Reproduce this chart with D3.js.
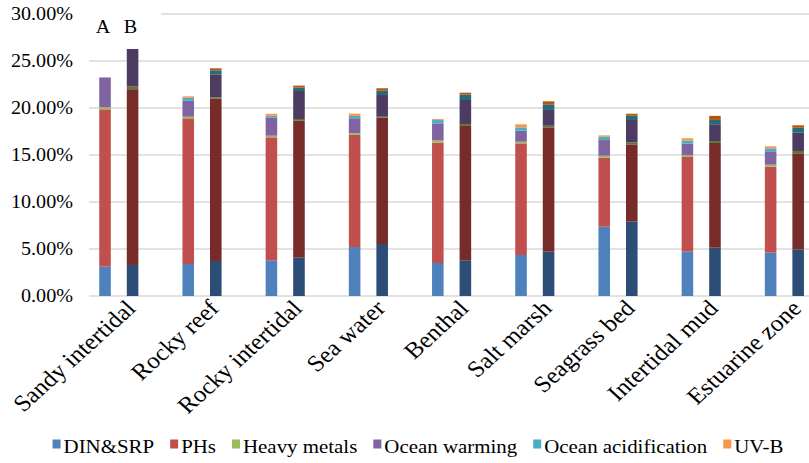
<!DOCTYPE html>
<html>
<head>
<meta charset="utf-8">
<script src="https://cdn.jsdelivr.net/npm/d3@7/dist/d3.min.js"></script>
<style>
  body { margin: 0; background: #fff; }
  svg text { font-family: "Liberation Serif", "Times New Roman", Times, "DejaVu Serif", serif !important; }
</style>
</head>
<body>
<svg id="chart" width="809" height="463"></svg>
<script>
const categories = ["Sandy intertidal", "Rocky reef", "Rocky intertidal", "Sea water", "Benthal",
  "Salt marsh", "Seagrass bed", "Intertidal mud", "Estuarine zone"];
const seriesNames = ["DIN&SRP", "PHs", "Heavy metals", "Ocean warming", "Ocean acidification", "UV-B"];
const groups = ["A", "B"];
const yTicks = [0, 5, 10, 15, 20, 25, 30];

// Bar A values (%)
const dinA  = [3.12, 3.40, 3.80, 5.21, 3.51, 4.36, 7.37, 4.72, 4.61];
const phsA  = [16.74, 15.50, 13.08, 11.92, 12.80, 11.88, 7.34, 10.07, 9.15];
const hmA   = [0.22, 0.17, 0.17, 0.18, 0.25, 0.17, 0.21, 0.18, 0.21];
const owA   = [3.17, 1.70, 1.95, 1.60, 1.81, 1.17, 1.67, 1.23, 1.42];
const oaA   = [0.00, 0.32, 0.18, 0.25, 0.35, 0.36, 0.35, 0.32, 0.32];
const uvA   = [0.00, 0.15, 0.20, 0.24, 0.10, 0.32, 0.15, 0.26, 0.21];
// Bar B values (%)
const dinB  = [3.30, 3.72, 4.08, 5.53, 3.80, 4.72, 7.91, 5.14, 4.96];
const phsB  = [18.70, 17.27, 14.57, 13.44, 14.29, 13.22, 8.22, 11.14, 10.22];
const hmB   = [0.28, 0.15, 0.18, 0.10, 0.21, 0.17, 0.21, 0.21, 0.25];
const owB   = [4.00, 2.40, 2.98, 2.31, 2.55, 1.68, 2.38, 1.78, 1.94];
const oaB   = [0.00, 0.47, 0.36, 0.46, 0.57, 0.60, 0.46, 0.46, 0.53];
const uvB   = [0.00, 0.21, 0.21, 0.26, 0.21, 0.32, 0.21, 0.43, 0.26];

const colorsA = ["#4f81bd", "#c0504d", "#9bbb59", "#8064a2", "#4bacc6", "#f79646"];
const colorsB = ["#2c4d75", "#772c2a", "#5f7530", "#4d3b62", "#276a7c", "#b65708"];

const valuesByGroup = {
  A: [dinA, phsA, hmA, owA, oaA, uvA],
  B: [dinB, phsB, hmB, owB, oaB, uvB]
};

const SX = 1.1; // horizontal stretch of the original text

const svg = d3.select("#chart");
svg.append("rect").attr("width", 809).attr("height", 463).attr("fill", "#fff");

const x = d3.scaleBand().domain(categories).range([77.2, 826]).padding(0);
const xSub = d3.scaleBand().domain(groups).range([0, x.bandwidth()])
  .paddingInner(0.58).paddingOuter(0.8);
const y = d3.scaleLinear().domain([0, 30]).range([296, 14]);

// gridlines
svg.append("g").selectAll("line").data(yTicks).join("line")
  .attr("x1", 89).attr("x2", 809)
  .attr("y1", d => y(d)).attr("y2", d => y(d))
  .attr("stroke", "#d9d9d9").attr("stroke-width", 1.5);

// y axis labels
const yAxis = d3.axisLeft(y).tickValues(yTicks).tickFormat(d => d.toFixed(2) + "%").tickSize(0).tickPadding(0);
const yg = svg.append("g").attr("transform", "translate(73,0)").call(yAxis);
yg.select(".domain").remove();
yg.selectAll("text").attr("font-size", 18.3).attr("fill", "#000")
  .attr("transform", `scale(${SX},1)`);

// stacked bars
groups.forEach(g => {
  const rows = categories.map((c, i) => {
    const r = { cat: c };
    seriesNames.forEach((s, k) => { r[s] = valuesByGroup[g][k][i]; });
    return r;
  });
  const stacked = d3.stack().keys(seriesNames)(rows);
  const cols = g === "A" ? colorsA : colorsB;
  svg.append("g").selectAll("g").data(stacked).join("g")
    .attr("fill", (d, k) => cols[k])
    .selectAll("rect").data(d => d).join("rect")
    .attr("x", d => x(d.data.cat) + xSub(g))
    .attr("width", xSub.bandwidth())
    .attr("y", d => y(d[1]))
    .attr("height", d => Math.max(0, y(d[0]) - y(d[1])));
});

// A / B labels (with white text box covering the gridline)
svg.append("rect").attr("x", 80).attr("y", 4).attr("width", 81).attr("height", 34).attr("fill", "#fff");
svg.append("g").selectAll("text").data(groups).join("text")
  .attr("transform", g => `translate(${x(categories[0]) + xSub(g) + xSub.bandwidth() / 2 - 2},33) scale(${SX},1)`)
  .attr("text-anchor", "middle")
  .attr("font-size", 18.3)
  .attr("fill", "#000")
  .text(g => g);

// x axis labels
const xAxis = d3.axisBottom(x).tickSize(0).tickPadding(0);
const xg = svg.append("g").attr("transform", "translate(0,304)").call(xAxis);
xg.select(".domain").remove();
xg.selectAll("text")
  .attr("font-size", 23)
  .attr("fill", "#000")
  .attr("text-anchor", "end")
  .attr("y", 0)
  .attr("dy", "0.35em")
  .attr("transform", `translate(12,0) scale(${SX},1) rotate(-45)`);

// legend
const legend = svg.append("g");
const items = legend.selectAll("g").data(seriesNames).join("g");
items.append("rect").attr("width", 8).attr("height", 9).attr("y", -7.5)
  .attr("fill", (d, i) => colorsA[i]);
items.append("text").attr("x", 0).attr("y", 0).attr("font-size", 19).attr("fill", "#000")
  .attr("dy", "0.3em").text(d => d);
let cx = 0;
items.each(function () {
  const t = this.querySelector("text");
  const w = t.getComputedTextLength() * SX;
  d3.select(t).attr("transform", `translate(11,0) scale(${SX},1)`);
  d3.select(this).attr("transform", `translate(${cx},0)`);
  cx += 11 + w + 16;
});
const total = cx - 16;
legend.attr("transform", `translate(${418 - total / 2},447)`);
</script>
</body>
</html>
